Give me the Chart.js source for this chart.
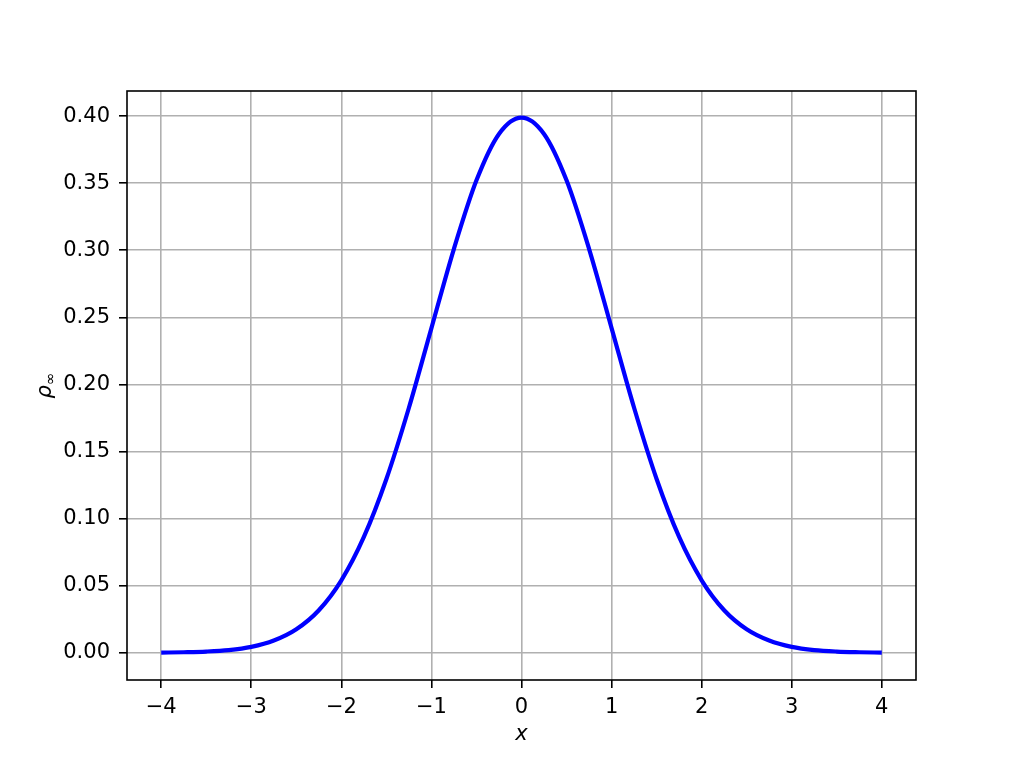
<!DOCTYPE html>
<html>
<head>
<meta charset="utf-8">
<script src="https://cdn.jsdelivr.net/npm/chart.js@4"></script>
<style>
  html, body { margin: 0; padding: 0; background: #fff; }
  #c { display: block; }
</style>
</head>
<body>
<canvas id="c" width="1017" height="763"></canvas>
<script>
// values
const xVals = [-4, -3.75, -3.5, -3.25, -3, -2.75, -2.5, -2.25, -2, -1.75, -1.5, -1.25, -1, -0.75, -0.5, -0.25,
  0, 0.25, 0.5, 0.75, 1, 1.25, 1.5, 1.75, 2, 2.25, 2.5, 2.75, 3, 3.25, 3.5, 3.75, 4];
const rhoVals = [0.0001, 0.0004, 0.0009, 0.0020, 0.0044, 0.0091, 0.0175, 0.0317, 0.0540, 0.0863, 0.1295, 0.1826, 0.2420, 0.3011, 0.3521, 0.3867,
  0.3989, 0.3867, 0.3521, 0.3011, 0.2420, 0.1826, 0.1295, 0.0863, 0.0540, 0.0317, 0.0175, 0.0091, 0.0044, 0.0020, 0.0009, 0.0004, 0.0001];
const xTicks = [-4, -3, -2, -1, 0, 1, 2, 3, 4];
const yTicks = [0, 0.05, 0.10, 0.15, 0.20, 0.25, 0.30, 0.35, 0.40];
const xLabel = 'x';
const yLabel = 'ρ';
const yLabelSub = '∞';

const FONT = 'DejaVu Sans';

const frameAndLabels = {
  id: 'frameAndLabels',
  afterDraw(chart) {
    const { ctx, chartArea: a } = chart;
    ctx.save();
    ctx.strokeStyle = '#000';
    ctx.lineWidth = 1.6;
    ctx.strokeRect(a.left, a.top, a.right - a.left, a.bottom - a.top);

    ctx.fillStyle = '#000';
    ctx.textAlign = 'center';
    ctx.textBaseline = 'middle';
    ctx.font = 'italic 21px "' + FONT + '"';
    ctx.fillText(xLabel, (a.left + a.right) / 2, 735);

    ctx.translate(46, (a.top + a.bottom) / 2);
    ctx.rotate(-Math.PI / 2);
    ctx.textAlign = 'left';
    ctx.textBaseline = 'alphabetic';
    ctx.font = 'italic 21px "' + FONT + '"';
    const w1 = ctx.measureText(yLabel).width;
    ctx.font = '15px "' + FONT + '"';
    const w2 = ctx.measureText(yLabelSub).width;
    const x0 = -(w1 + w2) / 2;
    ctx.font = 'italic 21px "' + FONT + '"';
    ctx.fillText(yLabel, x0, 5);
    ctx.font = '15px "' + FONT + '"';
    ctx.fillText(yLabelSub, x0 + w1, 9);
    ctx.restore();
  }
};

new Chart(document.getElementById('c').getContext('2d'), {
  type: 'scatter',
  data: {
    datasets: [{
      data: xVals.map((x, i) => ({ x: x, y: rhoVals[i] })),
      showLine: true,
      borderColor: '#0000ff',
      borderWidth: 4.2,
      pointRadius: 0,
      cubicInterpolationMode: 'monotone',
      fill: false
    }]
  },
  options: {
    responsive: false,
    animation: false,
    layout: { padding: { left: 0, top: 91, right: 101, bottom: 0 } },
    plugins: { legend: { display: false }, tooltip: { enabled: false } },
    scales: {
      x: {
        type: 'linear',
        min: -4.38,
        max: 4.38,
        afterBuildTicks: s => { s.ticks = xTicks.map(v => ({ value: v })); },
        afterFit: s => { s.height = 83; },
        grid: { color: '#b0b0b0', lineWidth: 1.6, tickColor: '#000', tickLength: 8, tickWidth: 1.6 },
        border: { display: false },
        ticks: {
          color: '#000',
          padding: 7,
          maxRotation: 0,
          font: { family: FONT, size: 21 },
          callback: v => (v < 0 ? '\u2212' + Math.abs(v) : String(v))
        }
      },
      y: {
        type: 'linear',
        min: -0.0203,
        max: 0.4187,
        afterBuildTicks: s => { s.ticks = yTicks.map(v => ({ value: v })); },
        afterFit: s => { s.width = 127; },
        grid: { color: '#b0b0b0', lineWidth: 1.6, tickColor: '#000', tickLength: 8, tickWidth: 1.6 },
        border: { display: false },
        ticks: {
          color: '#000',
          padding: 9,
          font: { family: FONT, size: 21 },
          callback: v => v.toFixed(2)
        }
      }
    }
  },
  plugins: [frameAndLabels]
});
</script>
</body>
</html>
